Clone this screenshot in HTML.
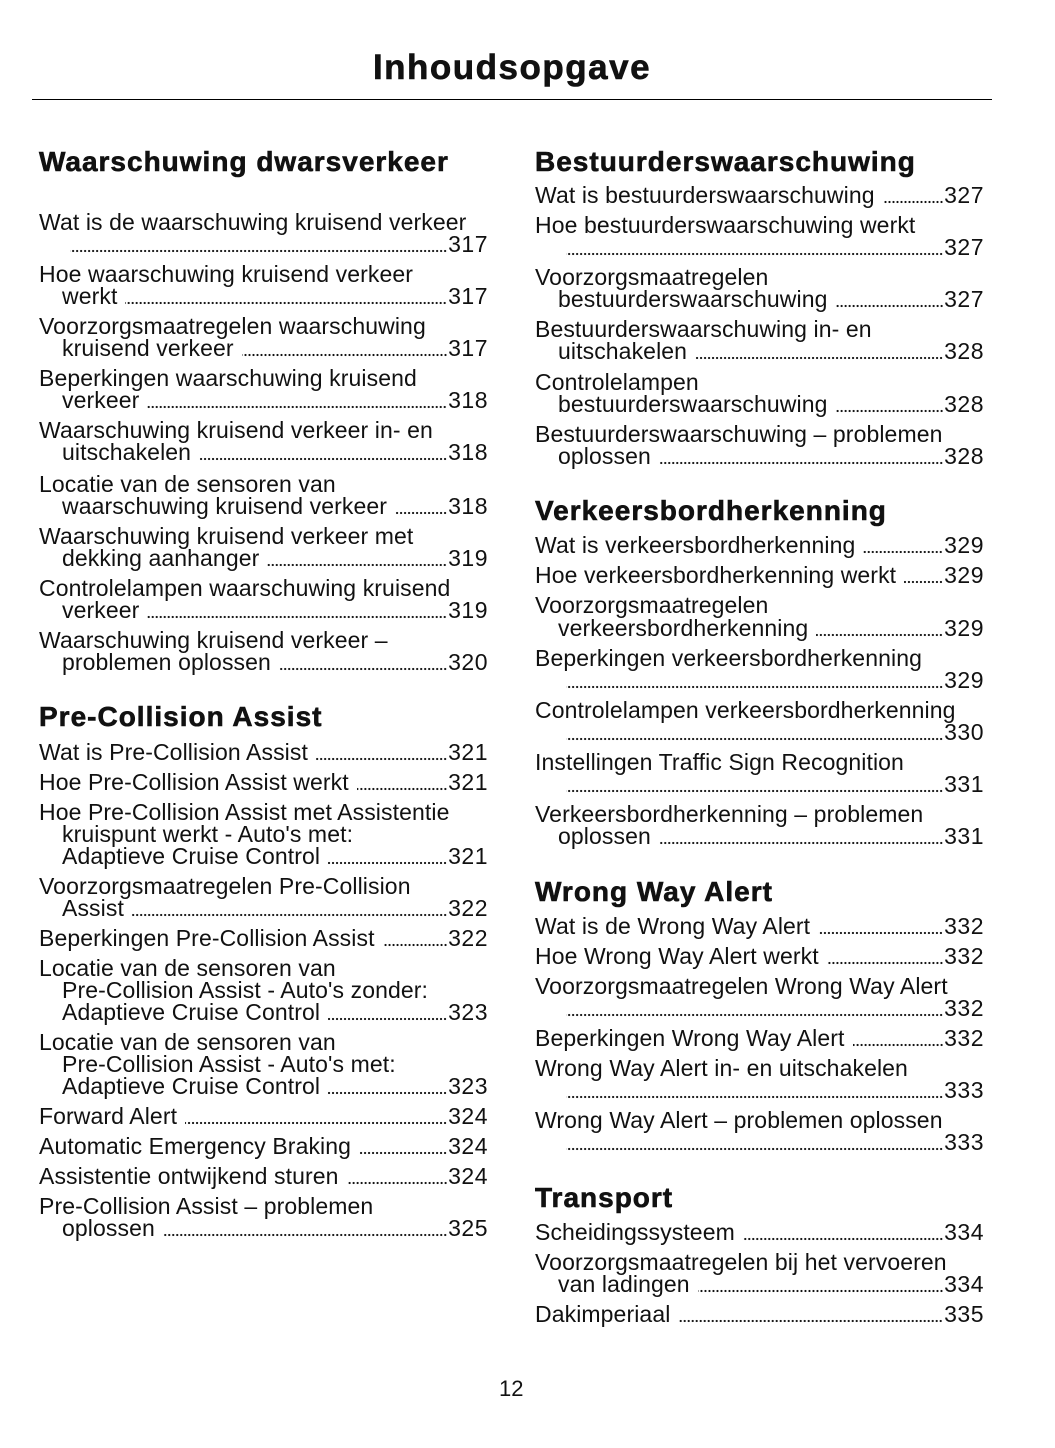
<!DOCTYPE html>
<html><head><meta charset="utf-8"><style>
body{margin:0;background:#fff;width:1055px;height:1448px;position:relative;font-family:"Liberation Sans",sans-serif;color:#111;overflow:hidden}
.t{position:absolute;left:0;width:1024px;text-align:center;top:46px;font-size:35px;letter-spacing:1.5px;font-weight:bold;line-height:44px;-webkit-text-stroke:0.6px #111}
.rule{position:absolute;left:32px;width:960px;top:99px;height:1px;background:#000}
.c{position:absolute;top:0;width:449px}
.l{position:absolute;left:0;right:0;height:26px;line-height:26px;font-size:23px;letter-spacing:0.1px;white-space:nowrap;display:flex}
.i{padding-left:23px}
.l i{flex:1;margin:0 1px 0 8px;background-image:radial-gradient(circle,#111 0.9px,transparent 1.3px);background-size:4px 4px;background-repeat:repeat-x;background-position:right bottom 4px}
.l b{font-weight:normal;letter-spacing:0.5px}
.h{position:absolute;left:0;font-size:28px;letter-spacing:1px;font-weight:bold;line-height:34px;white-space:nowrap;-webkit-text-stroke:0.6px #111}
.pn{position:absolute;left:499px;top:1376px;font-size:22px}
</style></head><body>
<div class="t">Inhoudsopgave</div>
<div class="rule"></div>
<div class="c" style="left:39px">
<div class="h" style="top:145px">Waarschuwing dwarsverkeer</div>
<div class="l" style="top:209px">Wat is de waarschuwing kruisend verkeer</div>
<div class="l i" style="top:231px"><i></i><b>317</b></div>
<div class="l" style="top:261px">Hoe waarschuwing kruisend verkeer</div>
<div class="l i" style="top:283px"><span>werkt</span><i></i><b>317</b></div>
<div class="l" style="top:313px">Voorzorgsmaatregelen waarschuwing</div>
<div class="l i" style="top:335px"><span>kruisend verkeer</span><i></i><b>317</b></div>
<div class="l" style="top:365px">Beperkingen waarschuwing kruisend</div>
<div class="l i" style="top:387px"><span>verkeer</span><i></i><b>318</b></div>
<div class="l" style="top:417px">Waarschuwing kruisend verkeer in- en</div>
<div class="l i" style="top:439px"><span>uitschakelen</span><i></i><b>318</b></div>
<div class="l" style="top:471px">Locatie van de sensoren van</div>
<div class="l i" style="top:493px"><span>waarschuwing kruisend verkeer</span><i></i><b>318</b></div>
<div class="l" style="top:523px">Waarschuwing kruisend verkeer met</div>
<div class="l i" style="top:545px"><span>dekking aanhanger</span><i></i><b>319</b></div>
<div class="l" style="top:575px">Controlelampen waarschuwing kruisend</div>
<div class="l i" style="top:597px"><span>verkeer</span><i></i><b>319</b></div>
<div class="l" style="top:627px">Waarschuwing kruisend verkeer –</div>
<div class="l i" style="top:649px"><span>problemen oplossen</span><i></i><b>320</b></div>
<div class="h" style="top:700px">Pre-Collision Assist</div>
<div class="l" style="top:739px"><span>Wat is Pre-Collision Assist</span><i></i><b>321</b></div>
<div class="l" style="top:769px"><span>Hoe Pre-Collision Assist werkt</span><i></i><b>321</b></div>
<div class="l" style="top:799px">Hoe Pre-Collision Assist met Assistentie</div>
<div class="l i" style="top:821px">kruispunt werkt - Auto's met:</div>
<div class="l i" style="top:843px"><span>Adaptieve Cruise Control</span><i></i><b>321</b></div>
<div class="l" style="top:873px">Voorzorgsmaatregelen Pre-Collision</div>
<div class="l i" style="top:895px"><span>Assist</span><i></i><b>322</b></div>
<div class="l" style="top:925px"><span>Beperkingen Pre-Collision Assist</span><i></i><b>322</b></div>
<div class="l" style="top:955px">Locatie van de sensoren van</div>
<div class="l i" style="top:977px">Pre-Collision Assist - Auto's zonder:</div>
<div class="l i" style="top:999px"><span>Adaptieve Cruise Control</span><i></i><b>323</b></div>
<div class="l" style="top:1029px">Locatie van de sensoren van</div>
<div class="l i" style="top:1051px">Pre-Collision Assist - Auto's met:</div>
<div class="l i" style="top:1073px"><span>Adaptieve Cruise Control</span><i></i><b>323</b></div>
<div class="l" style="top:1103px"><span>Forward Alert</span><i></i><b>324</b></div>
<div class="l" style="top:1133px"><span>Automatic Emergency Braking</span><i></i><b>324</b></div>
<div class="l" style="top:1163px"><span>Assistentie ontwijkend sturen</span><i></i><b>324</b></div>
<div class="l" style="top:1193px">Pre-Collision Assist – problemen</div>
<div class="l i" style="top:1215px"><span>oplossen</span><i></i><b>325</b></div>
</div>
<div class="c" style="left:535px">
<div class="h" style="top:145px">Bestuurderswaarschuwing</div>
<div class="l" style="top:182px"><span>Wat is bestuurderswaarschuwing</span><i></i><b>327</b></div>
<div class="l" style="top:212px">Hoe bestuurderswaarschuwing werkt</div>
<div class="l i" style="top:234px"><i></i><b>327</b></div>
<div class="l" style="top:264px">Voorzorgsmaatregelen</div>
<div class="l i" style="top:286px"><span>bestuurderswaarschuwing</span><i></i><b>327</b></div>
<div class="l" style="top:316px">Bestuurderswaarschuwing in- en</div>
<div class="l i" style="top:338px"><span>uitschakelen</span><i></i><b>328</b></div>
<div class="l" style="top:369px">Controlelampen</div>
<div class="l i" style="top:391px"><span>bestuurderswaarschuwing</span><i></i><b>328</b></div>
<div class="l" style="top:421px">Bestuurderswaarschuwing – problemen</div>
<div class="l i" style="top:443px"><span>oplossen</span><i></i><b>328</b></div>
<div class="h" style="top:494px">Verkeersbordherkenning</div>
<div class="l" style="top:532px"><span>Wat is verkeersbordherkenning</span><i></i><b>329</b></div>
<div class="l" style="top:562px"><span>Hoe verkeersbordherkenning werkt</span><i></i><b>329</b></div>
<div class="l" style="top:592px">Voorzorgsmaatregelen</div>
<div class="l i" style="top:615px"><span>verkeersbordherkenning</span><i></i><b>329</b></div>
<div class="l" style="top:645px">Beperkingen verkeersbordherkenning</div>
<div class="l i" style="top:667px"><i></i><b>329</b></div>
<div class="l" style="top:697px">Controlelampen verkeersbordherkenning</div>
<div class="l i" style="top:719px"><i></i><b>330</b></div>
<div class="l" style="top:749px">Instellingen Traffic Sign Recognition</div>
<div class="l i" style="top:771px"><i></i><b>331</b></div>
<div class="l" style="top:801px">Verkeersbordherkenning – problemen</div>
<div class="l i" style="top:823px"><span>oplossen</span><i></i><b>331</b></div>
<div class="h" style="top:875px">Wrong Way Alert</div>
<div class="l" style="top:913px"><span>Wat is de Wrong Way Alert</span><i></i><b>332</b></div>
<div class="l" style="top:943px"><span>Hoe Wrong Way Alert werkt</span><i></i><b>332</b></div>
<div class="l" style="top:973px">Voorzorgsmaatregelen Wrong Way Alert</div>
<div class="l i" style="top:995px"><i></i><b>332</b></div>
<div class="l" style="top:1025px"><span>Beperkingen Wrong Way Alert</span><i></i><b>332</b></div>
<div class="l" style="top:1055px">Wrong Way Alert in- en uitschakelen</div>
<div class="l i" style="top:1077px"><i></i><b>333</b></div>
<div class="l" style="top:1107px">Wrong Way Alert – problemen oplossen</div>
<div class="l i" style="top:1129px"><i></i><b>333</b></div>
<div class="h" style="top:1181px">Transport</div>
<div class="l" style="top:1219px"><span>Scheidingssysteem</span><i></i><b>334</b></div>
<div class="l" style="top:1249px">Voorzorgsmaatregelen bij het vervoeren</div>
<div class="l i" style="top:1271px"><span>van ladingen</span><i></i><b>334</b></div>
<div class="l" style="top:1301px"><span>Dakimperiaal</span><i></i><b>335</b></div>
</div>
<div class="pn">12</div>
</body></html>
